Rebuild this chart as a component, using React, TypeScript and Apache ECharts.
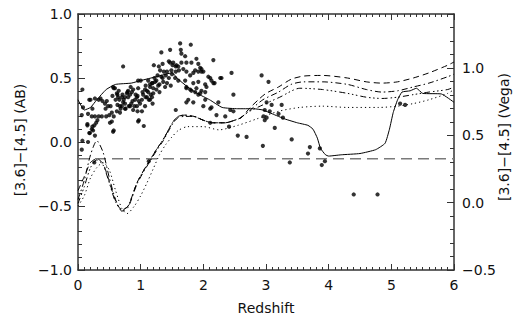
import React, { useEffect, useRef } from "react";
import * as echarts from "echarts";

// Redshift axis (x) and colour axes
const xTicks = [0, 1, 2, 3, 4, 5, 6];
const abRange = [-1.0, 1.0];
const vegaRange = [-0.5, 1.4];
const referenceLevelAB = -0.13;

// Observed galaxies: [redshift, [3.6]-[4.5] (AB)]
const galaxies: [number, number][] = [
  [0.07, 0.41], [0.08, 0.27], [0.18, 0.33], [0.2, 0.33], [0.27, 0.34], [0.33, 0.33], [0.36, 0.34],
  [0.39, 0.32], [0.43, 0.3], [0.46, 0.32], [0.48, 0.28], [0.52, 0.28], [0.16, 0.22], [0.22, 0.2],
  [0.27, 0.2], [0.33, 0.2], [0.38, 0.2], [0.45, 0.2], [0.5, 0.21], [0.54, 0.23], [0.15, 0.14],
  [0.26, 0.13], [0.22, 0.1], [0.19, 0.07], [0.27, 0.05], [0.56, 0.08], [0.51, 0.15], [0.07, 0.01],
  [0.16, 0.0], [0.06, -0.06], [0.15, 0.13], [0.23, 0.12], [0.24, 0.09], [0.18, 0.07], [0.29, 0.15],
  [0.26, -0.16], [0.54, 0.16], [0.23, 0.26], [0.31, 0.17], [0.06, 0.21], [0.44, 0.26],
  [0.56, 0.43], [0.59, 0.42], [0.62, 0.38], [0.64, 0.35], [0.66, 0.33], [0.67, 0.28], [0.7, 0.28],
  [0.72, 0.31], [0.75, 0.35], [0.78, 0.38], [0.8, 0.4], [0.83, 0.37], [0.86, 0.39], [0.88, 0.41],
  [0.91, 0.33], [0.94, 0.35], [0.96, 0.42], [0.99, 0.3], [1.02, 0.33], [1.04, 0.37], [1.07, 0.41],
  [1.1, 0.35], [1.12, 0.39], [1.15, 0.43], [1.18, 0.46], [1.2, 0.42], [1.23, 0.47], [1.25, 0.48],
  [1.28, 0.44], [1.31, 0.56], [1.33, 0.51], [1.36, 0.47], [1.39, 0.43], [0.72, 0.59], [0.96, 0.48],
  [0.83, 0.28], [0.88, 0.25], [0.94, 0.28], [1.02, 0.24], [0.75, 0.26], [0.67, 0.23], [0.96, 0.16],
  [1.15, 0.33], [1.07, 0.28], [0.57, 0.2], [0.63, 0.29], [0.68, 0.26], [0.73, 0.33], [0.76, 0.26],
  [0.81, 0.28], [0.87, 0.32], [0.92, 0.37], [0.97, 0.32], [1.03, 0.39], [1.08, 0.35], [1.13, 0.33],
  [1.16, 0.37], [0.57, 0.42], [0.63, 0.37], [0.71, 0.37], [0.79, 0.39], [0.84, 0.43], [1.0, 0.48],
  [1.19, 0.46], [1.21, 0.6], [1.29, 0.59], [1.33, 0.7], [1.35, 0.61], [1.4, 0.52], [1.45, 0.63],
  [1.51, 0.6], [1.56, 0.59], [1.61, 0.56], [1.64, 0.72], [0.57, 0.09], [0.95, 0.24], [1.19, 0.3],
  [1.56, 0.25], [0.97, 0.17], [1.05, 0.125], [1.13, -0.15],
  [1.1, 0.4], [1.15, 0.45], [1.2, 0.38], [1.25, 0.41], [1.3, 0.45], [1.35, 0.5], [1.42, 0.46],
  [1.45, 0.5], [1.5, 0.53], [1.55, 0.5], [1.6, 0.48], [1.48, 0.44], [1.42, 0.55], [1.37, 0.55],
  [1.27, 0.52], [1.22, 0.5], [1.3, 0.39], [1.18, 0.35], [1.08, 0.44], [1.12, 0.48], [0.6, 0.33],
  [0.65, 0.4], [0.7, 0.35], [0.75, 0.3], [0.8, 0.35], [0.85, 0.3], [0.9, 0.28], [0.95, 0.36],
  [0.55, 0.36], [0.62, 0.24],
  [1.47, 0.72], [1.63, 0.77], [1.65, 0.69], [1.71, 0.67], [1.89, 0.65], [1.92, 0.61], [1.47, 0.62],
  [1.52, 0.62], [1.57, 0.6], [1.49, 0.56], [1.56, 0.55], [1.6, 0.59], [1.68, 0.57], [1.87, 0.56],
  [1.92, 0.55], [1.97, 0.57], [2.0, 0.55], [2.11, 0.5], [2.18, 0.46], [2.29, 0.5], [1.73, 0.43],
  [1.81, 0.4], [1.89, 0.42], [1.97, 0.4], [2.05, 0.43], [2.11, 0.26], [1.76, 0.33], [1.92, 0.37],
  [2.03, 0.33], [2.43, 0.25], [2.21, 0.21], [2.48, 0.37],
  [1.8, 0.76], [1.65, 0.62], [1.73, 0.62], [1.81, 0.62], [1.95, 0.58], [1.97, 0.55], [2.16, 0.64],
  [1.73, 0.55], [1.79, 0.52], [1.84, 0.54], [1.71, 0.48], [1.84, 0.46], [1.92, 0.47], [2.03, 0.45],
  [1.73, 0.42], [1.79, 0.41], [1.87, 0.39], [1.95, 0.38], [2.03, 0.39], [2.08, 0.51], [2.13, 0.48],
  [2.16, 0.46], [2.27, 0.5], [2.45, 0.54], [2.24, 0.31], [2.13, 0.27], [2.0, 0.28], [1.84, 0.31],
  [1.73, 0.31], [2.35, 0.2], [2.48, 0.24], [2.11, 0.15], [2.41, 0.12], [2.55, 0.05], [2.69, 0.04],
  [2.93, 0.52], [3.04, 0.47], [3.01, 0.31], [2.98, 0.25], [2.96, 0.2], [3.01, 0.19], [3.06, 0.24],
  [3.09, 0.29], [3.14, 0.11], [3.2, 0.22], [3.25, 0.29], [3.27, 0.19], [3.41, 0.02], [2.95, -0.03],
  [2.98, 0.17], [3.67, -0.09], [3.7, -0.04], [3.38, -0.16], [3.86, -0.05], [3.89, -0.18],
  [3.94, -0.15], [5.14, 0.3], [5.22, 0.29], [4.4, -0.41], [4.78, -0.41],
];

// Model track (solid)
const solidTrack: [number, number][] = [
  [0.0, 0.33], [0.1, 0.25], [0.2, 0.27], [0.3, 0.33], [0.45, 0.41], [0.6, 0.45], [0.85, 0.46],
  [1.0, 0.48], [1.25, 0.51], [1.5, 0.54], [1.6, 0.49], [1.75, 0.43], [1.9, 0.38], [2.1, 0.33],
  [2.3, 0.27], [2.55, 0.26], [2.8, 0.26], [2.95, 0.25], [3.1, 0.22], [3.3, 0.18], [3.5, 0.15],
  [3.67, 0.13], [3.75, 0.1], [3.82, 0.03], [3.87, -0.05], [3.95, -0.1], [4.0, -0.11], [4.2, -0.1],
  [4.5, -0.09], [4.75, -0.06], [4.9, -0.01], [4.97, 0.1], [5.03, 0.23], [5.1, 0.33], [5.17, 0.39],
  [5.3, 0.4], [5.4, 0.42], [5.5, 0.38], [5.8, 0.375], [6.0, 0.31],
];

// Model tracks (dashed, dash-dot, dash-dot-dot-dot, dotted)
const dashedTrack: [number, number][] = [
  [0, -0.38], [0.1, -0.27], [0.2, -0.16], [0.3, -0.13], [0.4, -0.17], [0.5, -0.31], [0.6, -0.46],
  [0.7, -0.53], [0.8, -0.5], [0.94, -0.32], [1.05, -0.22], [1.15, -0.14], [1.25, -0.06], [1.36, 0.02],
  [1.45, 0.1], [1.52, 0.16], [1.6, 0.2], [1.7, 0.21], [1.85, 0.2], [2.0, 0.17], [2.15, 0.15],
  [2.35, 0.15], [2.5, 0.17], [2.6, 0.19], [2.75, 0.27], [2.9, 0.34], [3.0, 0.38], [3.2, 0.43],
  [3.4, 0.49], [3.6, 0.515], [3.9, 0.52], [4.3, 0.5], [4.6, 0.47], [4.85, 0.46], [5.1, 0.47],
  [5.35, 0.5], [5.6, 0.54], [5.9, 0.6], [6.0, 0.625],
];
const dashDotTrack: [number, number][] = [
  [0, -0.45], [0.1, -0.3], [0.2, -0.1], [0.3, 0.01], [0.4, -0.08], [0.5, -0.28], [0.6, -0.45],
  [0.7, -0.54], [0.8, -0.51], [0.94, -0.33], [1.05, -0.23], [1.15, -0.15], [1.25, -0.07], [1.36, 0.01],
  [1.45, 0.09], [1.52, 0.15], [1.6, 0.19], [1.7, 0.2], [1.85, 0.2], [2.0, 0.17], [2.15, 0.15],
  [2.35, 0.15], [2.5, 0.17], [2.6, 0.19], [2.75, 0.25], [2.95, 0.33], [3.2, 0.39], [3.4, 0.45],
  [3.6, 0.47], [3.9, 0.47], [4.3, 0.45], [4.6, 0.41], [4.85, 0.39], [5.1, 0.4], [5.35, 0.43],
  [5.6, 0.46], [5.9, 0.51], [6.0, 0.53],
];
const dashTripleDotTrack: [number, number][] = [
  [0, -0.48], [0.1, -0.35], [0.2, -0.2], [0.3, -0.14], [0.4, -0.18], [0.5, -0.32], [0.6, -0.47],
  [0.7, -0.53], [0.8, -0.5], [0.94, -0.32], [1.05, -0.22], [1.15, -0.14], [1.25, -0.06], [1.36, 0.02],
  [1.45, 0.1], [1.52, 0.16], [1.6, 0.2], [1.7, 0.21], [1.85, 0.2], [2.0, 0.17], [2.15, 0.15],
  [2.35, 0.15], [2.5, 0.17], [2.6, 0.19], [2.7, 0.23], [2.95, 0.29], [3.22, 0.35], [3.54, 0.42],
  [3.9, 0.41], [4.3, 0.38], [4.6, 0.35], [4.85, 0.34], [5.1, 0.35], [5.35, 0.37], [5.6, 0.39],
  [5.9, 0.41], [6.0, 0.43],
];
const dottedTrack: [number, number][] = [
  [0, -0.5], [0.1, -0.42], [0.2, -0.28], [0.3, -0.2], [0.4, -0.16], [0.5, -0.22], [0.6, -0.38],
  [0.7, -0.52], [0.78, -0.56], [0.9, -0.5], [1.0, -0.42], [1.1, -0.32], [1.2, -0.21], [1.3, -0.1],
  [1.4, -0.02], [1.5, 0.04], [1.6, 0.09], [1.75, 0.12], [2.0, 0.12], [2.25, 0.095], [2.55, 0.13],
  [2.85, 0.18], [3.2, 0.24], [3.54, 0.27], [3.9, 0.28], [4.3, 0.27], [4.8, 0.27], [5.1, 0.28],
  [5.35, 0.3], [5.6, 0.33], [5.9, 0.38], [6.0, 0.41],
];

const FONT = "DejaVu Sans";
const AXIS_COLOR = "#333";
const TEXT_COLOR = "#111";

const fmt = (v: number) => v.toFixed(1).replace("-", "\u2212");

function axisCommon(extra: any) {
  return {
    type: "value",
    splitLine: { show: false },
    axisLine: { show: true, onZero: false, lineStyle: { color: AXIS_COLOR, width: 1.5 } },
    axisTick: { show: true, inside: true, length: 7, lineStyle: { color: AXIS_COLOR, width: 1 } },
    minorTick: { show: true, length: 4, lineStyle: { color: AXIS_COLOR, width: 1 } },
    ...extra,
  };
}

export default function App() {
  const ref = useRef<HTMLDivElement>(null);
  useEffect(() => {
    if (!ref.current) return;
    const chart = echarts.init(ref.current, undefined, { renderer: "svg" });
    const lineSeries = (name: string, data: [number, number][], type: any, smooth = 0.25) => ({
      name,
      type: "line",
      data,
      showSymbol: false,
      symbol: "none",
      smooth,
      lineStyle: { color: "#000", width: 1, type },
      z: 3,
    });
    chart.setOption({
      animation: false,
      backgroundColor: "#fff",
      grid: { left: 78, right: 62, top: 14, bottom: 47, containLabel: false },
      xAxis: [
        axisCommon({
          min: xTicks[0],
          max: xTicks[xTicks.length - 1],
          interval: 1,
          position: "bottom",
          axisTick: { show: true, inside: true, length: 6, lineStyle: { color: AXIS_COLOR } },
          minorTick: { show: true, splitNumber: 10, length: 3, lineStyle: { color: AXIS_COLOR } },
          axisLabel: { margin: 8, fontSize: 14, color: TEXT_COLOR, fontFamily: FONT },
        }),
        axisCommon({
          min: xTicks[0],
          max: xTicks[xTicks.length - 1],
          interval: 1,
          position: "top",
          axisTick: { show: true, inside: true, length: 6, lineStyle: { color: AXIS_COLOR } },
          minorTick: { show: true, splitNumber: 10, length: 3, lineStyle: { color: AXIS_COLOR } },
          axisLabel: { show: false },
        }),
      ],
      yAxis: [
        axisCommon({
          min: abRange[0],
          max: abRange[1],
          interval: 0.5,
          position: "left",
          minorTick: { show: true, splitNumber: 5, length: 4, lineStyle: { color: AXIS_COLOR } },
          axisLabel: { margin: 6, fontSize: 14, color: TEXT_COLOR, fontFamily: FONT, formatter: fmt },
        }),
        axisCommon({
          min: vegaRange[0],
          max: vegaRange[1],
          interval: 0.5,
          position: "right",
          minorTick: { show: true, splitNumber: 5, length: 4, lineStyle: { color: AXIS_COLOR } },
          axisLabel: {
            margin: 8,
            fontSize: 14,
            color: TEXT_COLOR,
            fontFamily: FONT,
            showMaxLabel: false,
            formatter: fmt,
          },
        }),
      ],
      series: [
        {
          name: "reference",
          type: "line",
          data: [
            [xTicks[0], referenceLevelAB],
            [xTicks[xTicks.length - 1], referenceLevelAB],
          ],
          showSymbol: false,
          symbol: "none",
          lineStyle: { color: "#7a7a7a", width: 1.5, type: [11, 6] },
          z: 2,
        },
        lineSeries("solid", solidTrack, "solid", 0.15),
        lineSeries("dashed", dashedTrack, [6, 4]),
        lineSeries("dashdot", dashDotTrack, [6, 3, 1.5, 3]),
        lineSeries("dash3dot", dashTripleDotTrack, [6, 3, 1.5, 2.5, 1.5, 2.5, 1.5, 3]),
        lineSeries("dotted", dottedTrack, [1.2, 3]),
        {
          name: "galaxies",
          type: "scatter",
          data: galaxies,
          symbol: "circle",
          symbolSize: 4.2,
          itemStyle: { color: "#000" },
          z: 4,
        },
      ],
      graphic: [
        {
          type: "text",
          x: 20,
          y: 140,
          rotation: Math.PI / 2,
          style: {
            text: "[3.6]\u2212[4.5] (AB)",
            fontSize: 14,
            fontFamily: FONT,
            fill: TEXT_COLOR,
            textAlign: "center",
            textVerticalAlign: "middle",
          },
        },
        {
          type: "text",
          x: 504,
          y: 137,
          rotation: Math.PI / 2,
          style: {
            text: "[3.6]\u2212[4.5] (Vega)",
            fontSize: 14,
            fontFamily: FONT,
            fill: TEXT_COLOR,
            textAlign: "center",
            textVerticalAlign: "middle",
          },
        },
        {
          type: "text",
          x: 266,
          y: 308,
          style: {
            text: "Redshift",
            fontSize: 14,
            fontFamily: FONT,
            fill: TEXT_COLOR,
            textAlign: "center",
            textVerticalAlign: "middle",
          },
        },
      ],
    });
    return () => chart.dispose();
  }, []);
  return (
    <div
      ref={ref}
      style={{ position: "fixed", left: 0, top: 0, width: 516, height: 317, background: "#fff" }}
    />
  );
}
